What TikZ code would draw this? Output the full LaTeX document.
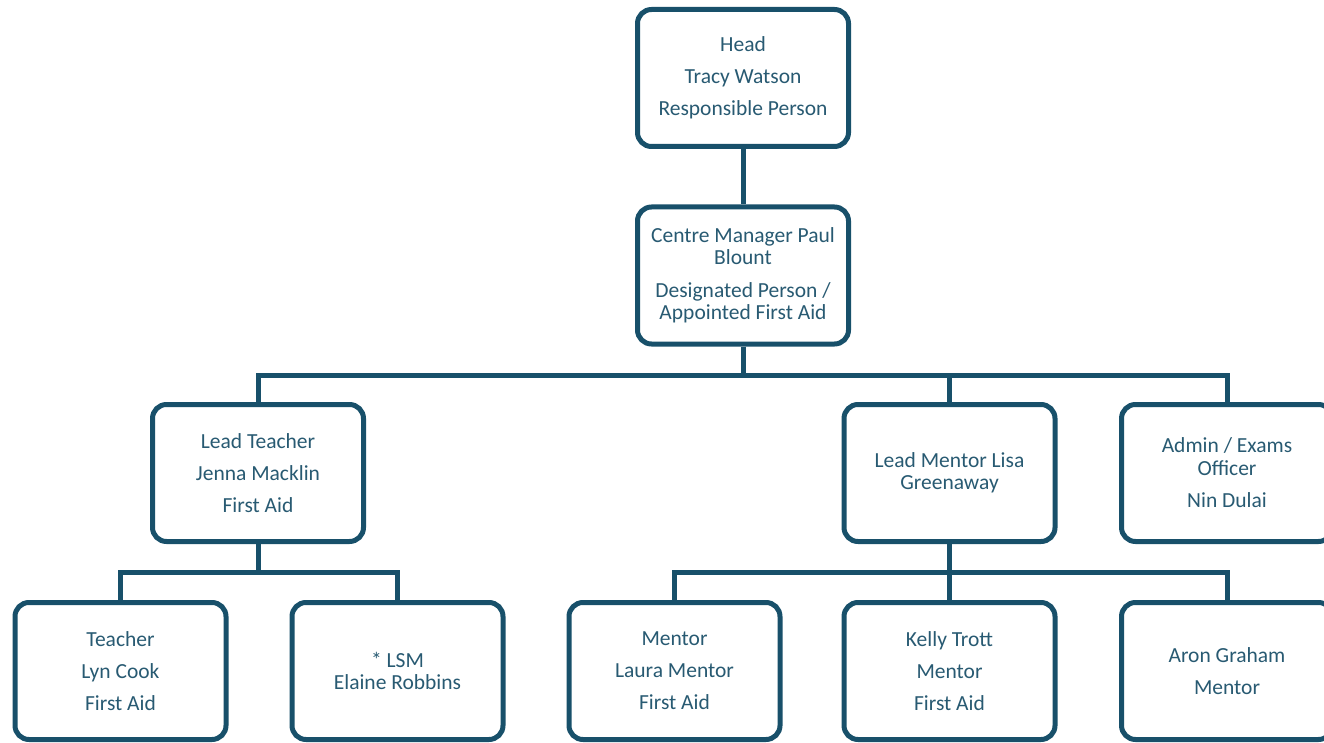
\documentclass[tikz,border=0pt]{standalone}
\usepackage{fontspec}
\setmainfont{Carlito}
\definecolor{boxline}{RGB}{24,80,106}
\definecolor{boxtext}{RGB}{40,90,114}
\begin{document}
\begin{tikzpicture}[x=1pt,y=-1pt,
  orgbox/.style={draw=boxline, line width=5pt, rounded corners=14pt, fill=white,
    minimum width=211pt, minimum height=137pt, inner sep=0pt, align=center,
    text=boxtext, font=\fontsize{21.5}{22.5}\selectfont},
  link/.style={draw=boxline, line width=5pt}]
\useasboundingbox (0,0) rectangle (1324,743);
\clip (0,0) rectangle (1324,743);
\node[orgbox] (head) at (743,78) {Head\\[9.5pt]Tracy Watson\\[9.5pt]Responsible Person};
\node[orgbox] (cm) at (743,275.5) {Centre Manager Paul\\Blount\\[10pt]Designated Person /\\Appointed First Aid};
\node[orgbox] (lt) at (258,473) {Lead Teacher\\[9.5pt]Jenna Macklin\\[9.5pt]First Aid};
\node[orgbox] (lm) at (949.5,473) {Lead Mentor Lisa\\Greenaway};
\node[orgbox] (ad) at (1227,473) {Admin / Exams\\Officer\\[10pt]Nin Dulai};
\node[orgbox] (te) at (120.5,671) {Teacher\\[9.5pt]Lyn Cook\\[9.5pt]First Aid};
\node[orgbox] (lsm) at (397.5,671) {* LSM\\Elaine Robbins};
\node[orgbox] (me) at (674.5,671) {Mentor\\[9.5pt]Laura Mentor\\[9.5pt]First Aid};
\node[orgbox] (kt) at (949.5,671) {Kelly Trott\\[9.5pt]Mentor\\[9.5pt]First Aid};
\node[orgbox] (ag) at (1227,671) {Aron Graham\\[9.5pt]Mentor};
\coordinate (b1) at (743,375);
\coordinate (b2) at (258,572);
\coordinate (b3) at (949.5,572);
\draw[link] (head.south) -- (cm.north);
\draw[link] (cm.south) -- (b1);
\draw[link] (lt.north) |- (b1) -| (ad.north);
\draw[link] (lm.north) -- (lm.north |- b1);
\draw[link] (lt.south) -- (b2);
\draw[link] (te.north) |- (b2) -| (lsm.north);
\draw[link] (lm.south) -- (kt.north);
\draw[link] (me.north) |- (b3) -| (ag.north);
\end{tikzpicture}
\end{document}
